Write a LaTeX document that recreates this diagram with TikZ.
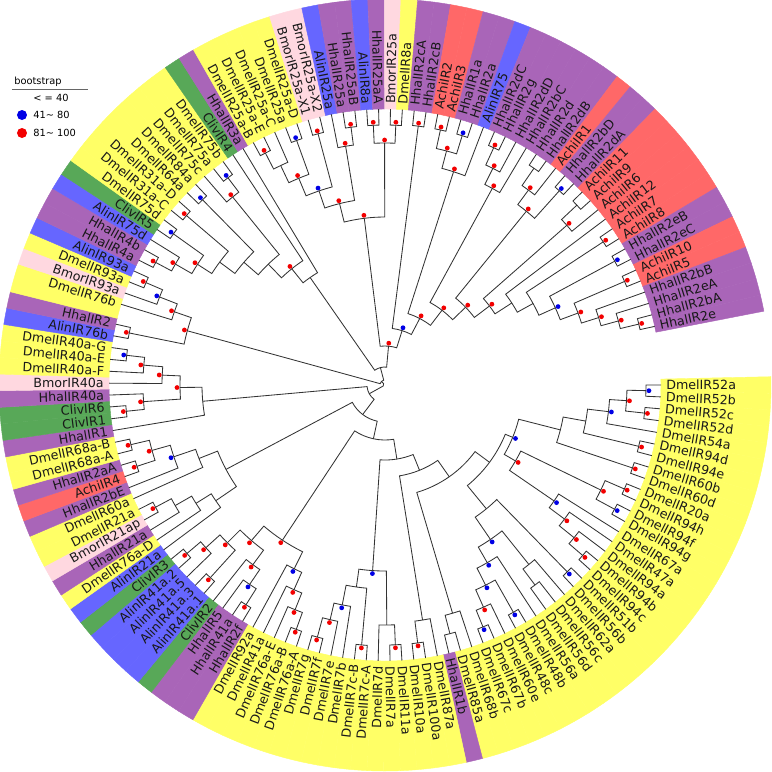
\documentclass[tikz,border=0pt]{standalone}
\usepackage{fontspec}
\setmainfont{DejaVu Sans}

\definecolor{cY}{HTML}{FFFF66}
\definecolor{cP}{HTML}{A965B8}
\definecolor{cB}{HTML}{6666FF}
\definecolor{cG}{HTML}{58A858}
\definecolor{cR}{HTML}{FF6868}
\definecolor{cK}{HTML}{FFD8E0}

% angle and radius of a tree node
\newcommand\setnode[3]{%
  \expandafter\xdef\csname tA:#1\endcsname{#2}%
  \expandafter\xdef\csname tR:#1\endcsname{#3}}
% clade: name, radius of its dot, first child, second child, dot (r, b or n)
\newcommand\clade[5]{%
  \pgfmathsetmacro\ca{\csname tA:#3\endcsname}%
  \pgfmathsetmacro\cb{\csname tA:#4\endcsname}%
  \edef\ra{\csname tR:#3\endcsname}%
  \edef\rb{\csname tR:#4\endcsname}%
  \pgfmathsetmacro\cm{(\ca+\cb)/2}%
  \pgfmathsetmacro\rr{#2-3}%
  \setnode{#1}{\cm}{\rr}%
  \draw[branch] (\ca:\ra) -- (\ca:\rr) arc[start angle=\ca, end angle=\cb, radius=\rr] -- (\cb:\rb);
  \coordinate (#1) at (\cm:\rr);
  \if n#5\else\fill[dot#5] (\cm:#2) circle[radius=2.4];\fi
}

\begin{document}
\begin{tikzpicture}[x=0.25mm, y=0.25mm,
  branch/.style={draw=black!80, line width=0.6pt},
  dotr/.style={fill=red!95!black},
  dotb/.style={fill=blue!90!black},
  leaflab/.style={font=\fontsize{9}{9}\selectfont, inner sep=0pt, text=black!90}]
  \def\dA{2.471} % angle between two leaves
  \def\dO{1.8}   % extra shift from leaf 80 on
  \def\RL{276}   % leaf tips
  \def\RT{281}   % labels
  \def\RO{386}   % outer edge of the bands
  \useasboundingbox (-385,-386) rectangle (387,385);

  % leaves: band, label
  \foreach \i/\lab/\col in {1/DmelIR52a/cY, 2/DmelIR52b/cY, 3/DmelIR52c/cY, 4/DmelIR52d/cY,
    5/DmelIR54a/cY, 6/DmelIR94d/cY, 7/DmelIR94e/cY, 8/DmelIR60b/cY, 9/DmelIR60d/cY,
    10/DmelIR20a/cY, 11/DmelIR94h/cY, 12/DmelIR94f/cY, 13/DmelIR94g/cY, 14/DmelIR67a/cY,
    15/DmelIR47a/cY, 16/DmelIR94a/cY, 17/DmelIR94b/cY, 18/DmelIR94c/cY, 19/DmelIR51b/cY,
    20/DmelIR56b/cY, 21/DmelIR62a/cY, 22/DmelIR56c/cY, 23/DmelIR56d/cY, 24/DmelIR56a/cY,
    25/DmelIR48b/cY, 26/DmelIR48c/cY, 27/DmelIR60e/cY, 28/DmelIR67b/cY, 29/DmelIR67c/cY,
    30/DmelIR68b/cY, 31/DmelIR85a/cY, 32/HhalIR1b/cP, 33/DmelIR87a/cY, 34/DmelIR100a/cY,
    35/DmelIR10a/cY, 36/DmelIR11a/cY, 37/DmelIR7a/cY, 38/DmelIR7d/cY, 39/DmelIR7c-A/cY,
    40/DmelIR7c-B/cY, 41/DmelIR7b/cY, 42/DmelIR7e/cY, 43/DmelIR7f/cY, 44/DmelIR7g/cY,
    45/DmelIR76a-A/cY, 46/DmelIR76a-B/cY, 47/DmelIR76a-E/cY, 48/DmelIR41a/cY, 49/DmelIR92a/cY,
    50/HhalIR2f/cP, 51/HhalIR41a/cP, 52/HhalIR5/cP, 53/ClivIR2/cG, 54/AlinIR41a.1/cB,
    55/AlinIR41a.3/cB, 56/AlinIR41a.5/cB, 57/AlinIR41a.2/cB, 58/ClivIR3/cG, 59/AlinIR21a/cB,
    60/DmelIR76a-D/cY, 61/HhalIR21a/cP, 62/BmorIR21ap/cK, 63/DmelIR21a/cY, 64/DmelIR60a/cY,
    65/HhalIR2bE/cP, 66/AchiIR4/cR, 67/HhalIR2aA/cP, 68/DmelIR68a-A/cY, 69/DmelIR68a-B/cY,
    70/HhalIR1/cP, 71/ClivIR1/cG, 72/ClivIR6/cG, 73/HhalIR40a/cP, 74/BmorIR40a/cK,
    75/DmelIR40a-F/cY, 76/DmelIR40a-E/cY, 77/DmelIR40a-G/cY, 78/AlinIR76b/cB, 79/HhalIR2/cP,
    80/DmelIR76b/cY, 81/BmorIR93a/cK, 82/DmelIR93a/cY, 83/AlinIR93a/cB, 84/HhalIR4a/cP,
    85/HhalIR4b/cP, 86/AlinIR75d/cB, 87/ClivIR5/cG, 88/DmelIR75d/cY, 89/DmelIR31a-C/cY,
    90/DmelIR31a-D/cY, 91/DmelIR64a/cY, 92/DmelIR84a/cY, 93/DmelIR75c/cY, 94/DmelIR75a/cY,
    95/DmelIR75b/cY, 96/ClivIR4/cG, 97/HhalIR3a/cP, 98/DmelIR25a-B/cY, 99/DmelIR25a-E/cY,
    100/DmelIR25a-C/cY, 101/DmelIR25a/cY, 102/DmelIR25a-D/cY, 103/BmorIR25a-X1/cK,
    104/BmorIR25a-X2/cK, 105/AlinIR25a/cB, 106/HhalIR25a/cP, 107/HhalIR25aB/cP,
    108/AlinIR8a/cB, 109/HhalIR25aA/cP, 110/BmorIR25a/cK, 111/DmelIR8a/cY, 112/HhalIR2cA/cP,
    113/HhalIR2cB/cP, 114/AchiIR2/cR, 115/AchiIR3/cR, 116/HhalIR1a/cP, 117/HhalIR2a/cP,
    118/AlinIR75/cB, 119/HhalIR2dC/cP, 120/HhalIR2g/cP, 121/HhalIR2dD/cP, 122/HhalIR2bC/cP,
    123/HhalIR2d/cP, 124/HhalIR2dB/cP, 125/AchiIR1/cR, 126/HhalIR2bD/cP, 127/HhalIR2dA/cP,
    128/AchiIR11/cR, 129/AchiIR9/cR, 130/AchiIR6/cR, 131/AchiIR12/cR, 132/AchiIR7/cR,
    133/AchiIR8/cR, 134/HhalIR2eB/cP, 135/HhalIR2eC/cP, 136/AchiIR10/cR, 137/AchiIR5/cR,
    138/HhalIR2bB/cP, 139/HhalIR2eA/cP, 140/HhalIR2bA/cP, 141/HhalIR2e/cP}{
    \pgfmathsetmacro\ang{-(\i-1)*\dA-(\i>79)*\dO}
    \pgfmathsetmacro\angA{\ang+\dA/2+(\i==80)*\dO}
    \pgfmathsetmacro\angB{\ang-\dA/2}
    \setnode{\i}{\ang}{\RL}
    \fill[\col, draw=\col, line width=0.3pt] (\angA:\RL) arc[start angle=\angA, end angle=\angB, radius=\RL]
      -- (\angB:\RO) arc[start angle=\angB, end angle=\angA, radius=\RO] -- cycle;
    \pgfmathtruncatemacro\side{cos(\ang)>=0}
    \ifnum\side=1
      \node[leaflab, anchor=west, rotate=\ang] (L\i) at (\ang:\RT) {\lab};
    \else
      \pgfmathsetmacro\angF{\ang+180}
      \node[leaflab, anchor=east, rotate=\angF] (L\i) at (\ang:\RT) {\lab};
    \fi
  }

  % IR52 / IR94 group
  \clade{n1}{264}{1}{2}{b}
  \clade{n2}{264}{3}{4}{r}
  \clade{n3}{245}{n1}{n2}{r}
  \clade{n4}{228}{n3}{5}{b}
  \clade{n5}{264}{6}{7}{r}
  \clade{n10}{207}{n4}{n5}{n}
  \clade{n6}{264}{8}{9}{r}
  \clade{n7}{264}{10}{11}{r}
  \clade{n8}{264}{12}{13}{b}
  \clade{n9}{243}{n7}{n8}{r}
  \clade{m1}{264}{17}{18}{r}
  \clade{m2}{246}{16}{m1}{r}
  \clade{m3}{227}{15}{m2}{r}
  \clade{m4}{208}{14}{m3}{b}
  \clade{R1}{184}{n10}{n6}{n}
  \clade{R2}{154}{n9}{m4}{r}
  \clade{R3}{141}{R1}{R2}{b}
  % IR56 / IR67 group
  \clade{p1}{264}{19}{20}{b}
  \clade{q1}{253}{22}{23}{n}
  \clade{q2}{233}{21}{q1}{n}
  \clade{p2}{264}{25}{26}{b}
  \clade{p3}{264}{28}{29}{b}
  \clade{p4}{246}{27}{p3}{r}
  \clade{p5}{227}{p2}{p4}{b}
  \clade{p6}{208}{24}{p5}{b}
  \clade{p7}{190}{q2}{p6}{b}
  \clade{P1}{163}{p1}{p7}{n}
  \clade{e1}{260}{31}{32}{n}
  \clade{e2}{241}{30}{e1}{n}
  % IR7 group
  \clade{k1}{263}{34}{35}{r}
  \clade{k2}{241}{33}{k1}{n}
  \clade{k3}{263}{36}{37}{r}
  \clade{k4}{243}{k3}{38}{n}
  \clade{k5}{264}{39}{40}{r}
  \clade{k6}{264}{43}{44}{r}
  \clade{k7}{244}{42}{k6}{r}
  \clade{k8}{227}{41}{k7}{b}
  \clade{k9}{207}{k5}{k8}{n}
  \clade{k10}{189}{k4}{k9}{b}
  % IR76a / IR41a group
  \clade{b1}{263}{45}{46}{r}
  \clade{b2}{245}{b1}{47}{r}
  \clade{b3}{227}{b2}{48}{r}
  \clade{b4}{208}{b3}{49}{b}
  \clade{c1}{263}{50}{51}{r}
  \clade{c2}{244}{c1}{52}{b}
  \clade{c3}{226}{c2}{53}{r}
  \clade{c4}{263}{54}{55}{r}
  \clade{c5}{263}{57}{58}{r}
  \clade{c6}{245}{56}{c5}{r}
  \clade{c7}{226}{c4}{c6}{r}
  \clade{c8}{208}{c3}{c7}{r}
  \clade{d1}{189}{b4}{c8}{r}
  % IR21a / IR68a group
  \clade{g1}{263}{62}{63}{r}
  \clade{g2}{245}{61}{g1}{n}
  \clade{g3}{226}{60}{g2}{n}
  \clade{g4}{208}{59}{g3}{n}
  \clade{h1}{264}{66}{67}{r}
  \clade{h2}{264}{68}{69}{r}
  \clade{h3}{245}{h1}{h2}{r}
  \clade{h4}{226}{65}{h3}{b}
  \clade{h5}{203}{64}{h4}{n}
  \clade{h6}{183}{g4}{h5}{n}
  % IR40a group
  \clade{l1}{263}{71}{72}{r}
  \clade{l2}{245}{l1}{73}{r}
  \clade{l3}{263}{76}{77}{b}
  \clade{l4}{245}{75}{l3}{r}
  \clade{l5}{226}{74}{l4}{r}
  \clade{l6}{208}{l2}{l5}{r}
  \clade{l7}{186}{70}{l6}{n}
  % backbone of the lower half
  \clade{N130}{133}{P1}{R3}{n}
  \clade{N112}{115}{e2}{N130}{n}
  \clade{N92}{95}{k2}{N112}{n}
  \clade{N75}{78}{k10}{N92}{n}
  \clade{N55}{58}{d1}{N75}{n}
  \clade{N37}{40}{h6}{N55}{n}
  \clade{N18}{21}{l7}{N37}{n}
  % IR76b / IR93a group
  \clade{u1}{264}{78}{79}{r}
  \clade{u3}{263}{82}{83}{r}
  \clade{u4}{245}{81}{u3}{b}
  \clade{u6}{226}{80}{u4}{r}
  \clade{u5}{208}{u1}{u6}{r}
  % IR75 / IR31a group
  \clade{w1}{263}{84}{85}{r}
  \clade{w2}{245}{w1}{86}{r}
  \clade{w3}{263}{87}{88}{b}
  \clade{w4}{226}{w2}{w3}{r}
  \clade{v1}{264}{89}{90}{r}
  \clade{v2}{263}{91}{92}{b}
  \clade{v4}{263}{94}{95}{b}
  \clade{v5}{245}{93}{v4}{r}
  \clade{x1}{209}{w4}{v1}{n}
  \clade{x2}{190}{x1}{v2}{n}
  \clade{x3}{171}{x2}{v5}{n}
  \clade{x4}{152}{x3}{96}{r}
  \clade{x5}{134}{x4}{97}{n}
  % IR25a / IR8a group
  \clade{t1}{264}{98}{99}{r}
  \clade{t2}{246}{t1}{100}{n}
  \clade{t3}{263}{101}{102}{b}
  \clade{t4}{227}{t2}{t3}{r}
  \clade{t5}{263}{103}{104}{r}
  \clade{t6}{208}{t4}{t5}{b}
  \clade{t7}{263}{106}{107}{r}
  \clade{t8}{245}{105}{t7}{r}
  \clade{t9}{190}{t6}{t8}{r}
  \clade{t10}{263}{108}{109}{r}
  \clade{t11}{263}{110}{111}{r}
  \clade{t12}{245}{t10}{t11}{r}
  \clade{t13}{171}{t9}{t12}{r}
  % Hhal / Achi group
  \clade{T1}{264}{112}{113}{r}
  \clade{s1}{264}{114}{115}{r}
  \clade{s2}{264}{116}{117}{b}
  \clade{s3}{245}{s1}{s2}{r}
  \clade{T2}{227}{s3}{118}{r}
  \clade{s4}{264}{119}{120}{r}
  \clade{s5}{245}{s4}{121}{r}
  \clade{T3}{227}{s5}{122}{r}
  \clade{s6}{266}{123}{124}{n}
  \clade{s7}{245}{s6}{125}{r}
  \clade{s8}{264}{126}{127}{b}
  \clade{T4}{227}{s7}{s8}{r}
  \clade{s9}{266}{128}{129}{n}
  \clade{T5}{245}{s9}{130}{r}
  \clade{T7}{264}{132}{133}{r}
  \clade{s10}{264}{134}{135}{b}
  \clade{s11}{264}{136}{137}{r}
  \clade{s12}{264}{140}{141}{r}
  \clade{s13}{245}{139}{s12}{r}
  \clade{s14}{227}{138}{s13}{r}
  \clade{s15}{209}{s11}{s14}{r}
  \clade{T8}{190}{s10}{s15}{b}
  \clade{bi}{172}{T7}{T8}{n}
  \clade{bh}{154}{131}{bi}{n}
  \clade{bg}{134}{T5}{bh}{r}
  \clade{bf}{115}{T4}{bg}{r}
  \clade{be}{97}{T3}{bf}{r}
  \clade{bd}{78}{T2}{be}{r}
  \clade{bc}{60}{T1}{bd}{b}
  \clade{bb}{42}{t13}{bc}{r}
  \clade{ba}{21}{x5}{bb}{n}
  % root
  \clade{r1}{8}{u5}{ba}{n}
  \clade{root}{5}{N18}{r1}{n}

  % legend
  \node[font=\fontsize{7}{7}\selectfont, anchor=west, inner sep=0pt] (bs) at (-371,303) {bootstrap};
  \draw[black!60, line width=0.5pt] (-373,296) -- (-297,296);
  \node[font=\fontsize{7}{7}\selectfont, anchor=west, inner sep=0pt] (b40) at (-352,287) {< = 40};
  \fill[blue!90!black] (-363,270) circle[radius=5];
  \node[font=\fontsize{7}{7}\selectfont, anchor=west, inner sep=0pt] (b80) at (-352,270) {41\char`~\ 80};
  \fill[red!95!black] (-363,252) circle[radius=5];
  \node[font=\fontsize{7}{7}\selectfont, anchor=west, inner sep=0pt] (b100) at (-352,252) {81\char`~\ 100};
\end{tikzpicture}
\end{document}
